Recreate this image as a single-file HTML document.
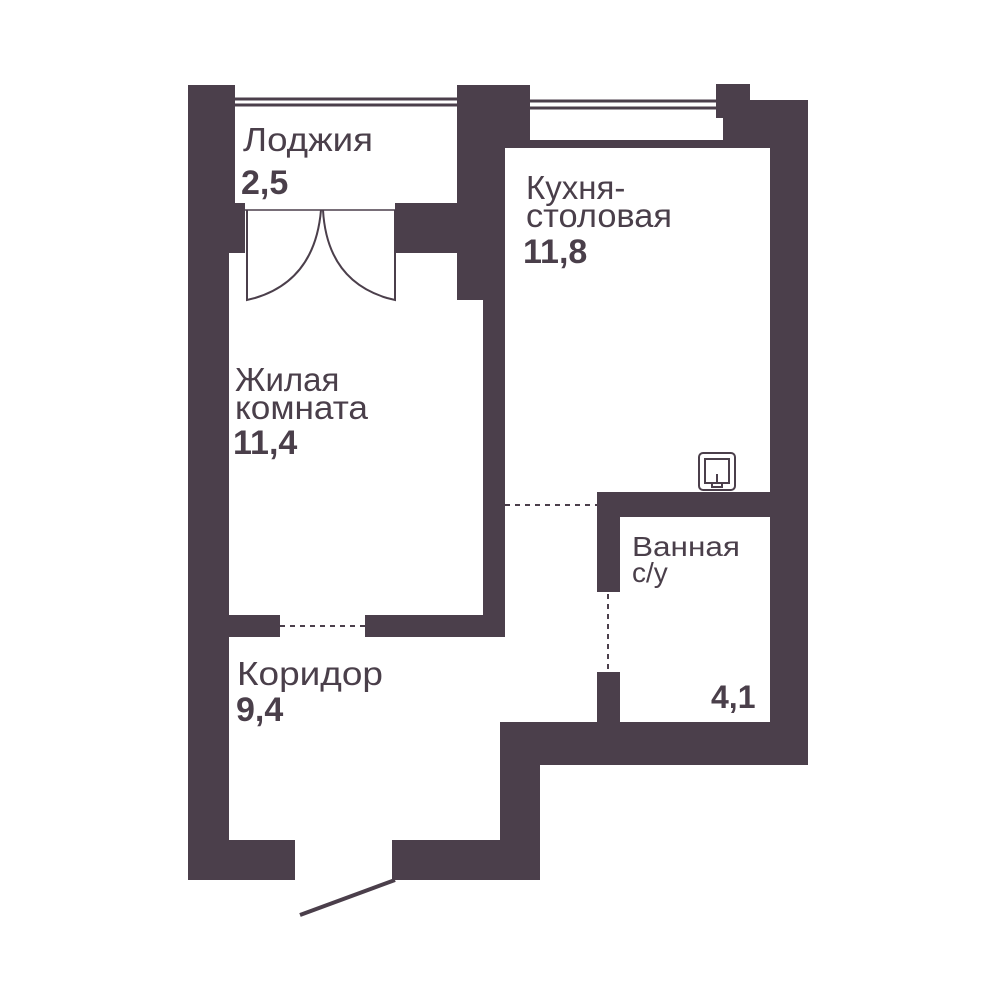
<!DOCTYPE html>
<html><head><meta charset="utf-8"><style>
body{margin:0;background:#fff;}
svg{display:block}
text{font-family:"Liberation Sans","DejaVu Sans",sans-serif;fill:#4a3f4a}
.b{font-weight:bold}
</style></head><body>
<svg width="999" height="1000" viewBox="0 0 999 1000" xmlns="http://www.w3.org/2000/svg">
<g fill="#4b3f4b">
<rect x="188" y="85" width="47" height="168"/>
<rect x="188" y="253" width="41" height="627"/>
<rect x="229" y="203" width="16" height="50"/>
<rect x="395" y="203" width="70" height="50"/>
<rect x="457" y="85" width="73" height="33"/>
<rect x="457" y="118" width="48" height="182"/>
<rect x="505" y="118" width="25" height="30"/>
<rect x="505" y="140" width="265" height="8"/>
<rect x="483" y="300" width="22" height="337"/>
<rect x="229" y="615" width="51" height="22"/>
<rect x="365" y="615" width="140" height="22"/>
<rect x="716" y="84" width="34" height="34"/>
<rect x="750" y="100" width="58" height="48"/>
<rect x="723" y="118" width="47" height="30"/>
<rect x="770" y="148" width="38" height="617"/>
<rect x="597" y="492" width="173" height="25"/>
<rect x="597" y="517" width="23" height="75"/>
<rect x="597" y="672" width="23" height="55"/>
<rect x="500" y="722" width="308" height="43"/>
<rect x="500" y="722" width="40" height="158"/>
<rect x="392" y="840" width="148" height="40"/>
<rect x="188" y="840" width="107" height="40"/>
</g>
<g stroke="#4b3f4b" fill="none">
<line x1="235" y1="99" x2="457" y2="99" stroke-width="3"/>
<line x1="235" y1="105" x2="457" y2="105" stroke-width="3"/>
<line x1="530" y1="101" x2="716" y2="101" stroke-width="3"/>
<line x1="530" y1="108" x2="716" y2="108" stroke-width="3"/>
<path d="M247 210 L247 300 L255 298 Q315 280 321 210" stroke-width="2"/>
<path d="M395 210 L395 300 L387 298 Q327 280 323 210" stroke-width="2"/>
<line x1="245" y1="210" x2="397" y2="210" stroke-width="1.5"/>
<line x1="395" y1="880" x2="300" y2="915" stroke-width="4"/>
<line x1="280" y1="626" x2="365" y2="626" stroke-width="2" stroke-dasharray="5,5"/>
<line x1="505" y1="505" x2="597" y2="505" stroke-width="2" stroke-dasharray="5,5"/>
<line x1="608" y1="594" x2="608" y2="672" stroke-width="2" stroke-dasharray="5,5"/>
<rect x="699" y="453" width="36" height="37" rx="4" stroke-width="2"/>
<rect x="705" y="459" width="24" height="24" stroke-width="2"/>
<path d="M717 474 V483 M712 483 h10 v4 h-10 z" stroke-width="2"/>
</g>
<text x="243" y="151" font-size="33" textLength="130" lengthAdjust="spacingAndGlyphs">Лоджия</text>
<text x="241" y="194" font-size="34" class="b">2,5</text>
<text x="526" y="199" font-size="33">Кухня-</text>
<text x="526" y="227" font-size="33" textLength="146" lengthAdjust="spacingAndGlyphs">столовая</text>
<text x="523" y="263" font-size="34" class="b">11,8</text>
<text x="235" y="391" font-size="33">Жилая</text>
<text x="235" y="419" font-size="33" textLength="133" lengthAdjust="spacingAndGlyphs">комната</text>
<text x="233" y="454" font-size="34" class="b">11,4</text>
<text x="632" y="556" font-size="28" textLength="108" lengthAdjust="spacingAndGlyphs">Ванная</text>
<text x="632" y="582" font-size="28">с/у</text>
<text x="711" y="708" font-size="32" class="b">4,1</text>
<text x="237" y="685" font-size="33" textLength="146" lengthAdjust="spacingAndGlyphs">Коридор</text>
<text x="236" y="721" font-size="34" class="b">9,4</text>
</svg>
</body></html>
